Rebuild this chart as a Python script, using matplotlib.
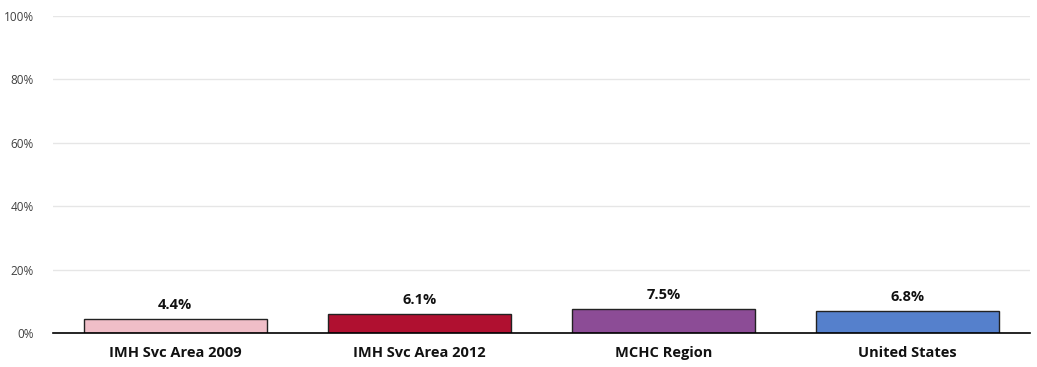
import matplotlib
matplotlib.use("Agg")
from matplotlib import pyplot as plt
from matplotlib.ticker import PercentFormatter

# %% Data
categories = ["IMH Svc Area 2009", "IMH Svc Area 2012", "MCHC Region", "United States"]
values = [4.4, 6.1, 7.5, 6.8]
colors = ["#F0BEC8", "#B01030", "#8C4C96", "#5580CC"]

# %% Figure
plt.rcParams['font.family'] = ['Open Sans', 'DejaVu Sans']

fig = plt.figure(figsize=(10.37, 3.67), dpi=100)
ax = fig.add_axes([0.0511, 0.0926, 0.9420, 0.864])

x = range(len(categories))
ax.bar(x, values, width=0.75, color=colors, edgecolor="#222222", linewidth=1.0, zorder=3)
for xi, v in zip(x, values):
    ax.text(xi, v + 2.2, f"{v:.1f}%", ha="center", va="bottom",
            fontsize=10.5, fontweight="bold", color="#111111")

ax.set_xlim(-0.5, len(categories) - 0.5)
ax.set_ylim(0, 100)
ax.set_yticks(range(0, 101, 20))
ax.yaxis.set_major_formatter(PercentFormatter(decimals=0))
ax.set_xticks(list(x))
ax.set_xticklabels(categories, fontsize=10.5, fontweight="bold", color="#111111")
ax.tick_params(axis="both", length=0)
ax.tick_params(axis="y", labelsize=8.5, labelcolor="#404040", pad=14)
ax.tick_params(axis="x", pad=9)
ax.grid(axis="y", color="#E6E6E6", linewidth=1.0, zorder=0)
for s in ["top", "right", "left"]:
    ax.spines[s].set_visible(False)
ax.spines["bottom"].set_color("#000000")
ax.spines["bottom"].set_linewidth(1.2)
ax.spines["bottom"].set_zorder(4)

plt.savefig("out.png", dpi=100)
plt.close(fig)
